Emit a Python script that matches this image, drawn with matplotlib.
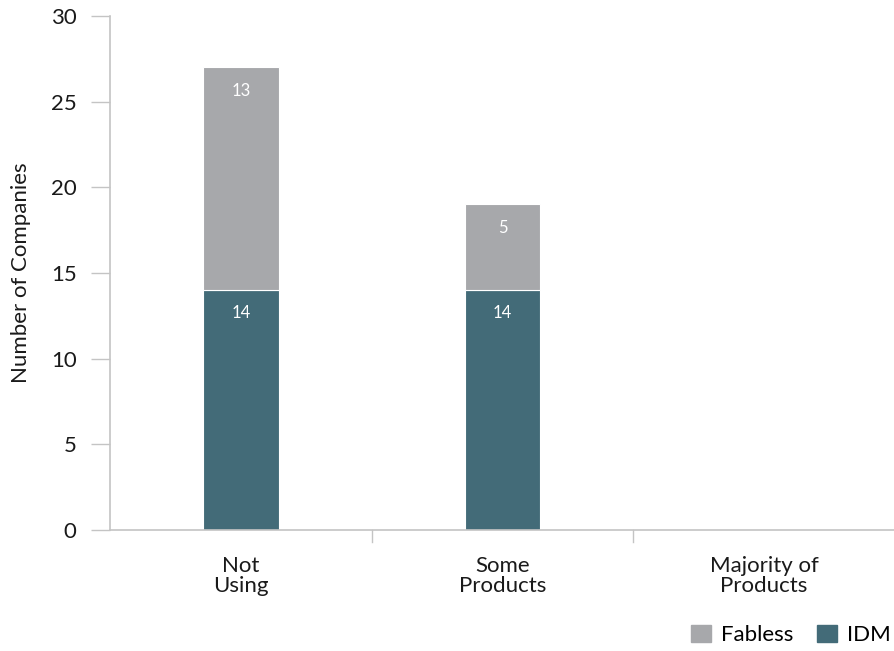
import matplotlib
matplotlib.use("Agg")
import matplotlib.pyplot as plt
import numpy as np
from matplotlib.patches import Patch

categories = ["Not\nUsing", "Some\nProducts", "Majority of\nProducts"]
idm = [14, 14, 0]
fabless = [13, 5, 0]
yticks = [0, 5, 10, 15, 20, 25, 30]

c_idm = "#436b78"
c_fab = "#a7a8ab"
c_axis = "#c4c4c4"
c_text = "#1a1a1a"

plt.rcParams['font.family'] = ['Lato', 'DejaVu Sans']

fig = plt.figure(figsize=(8.95, 6.51), dpi=100)
ax = fig.add_axes([110/895, 1-530/651, 1-110/895, (530-16)/651])

x = np.arange(len(categories))
w = 0.29
ax.bar(x, idm, w, color=c_idm, edgecolor="white", linewidth=0.8)
ax.bar(x, fabless, w, bottom=idm, color=c_fab, edgecolor="white", linewidth=0.8)

for i in range(len(categories)):
    if idm[i] > 0:
        ax.annotate(str(idm[i]), (x[i], idm[i]), xytext=(0, -11), textcoords="offset points",
                    ha="center", va="top", color="white", fontsize=12)
    if fabless[i] > 0:
        ax.annotate(str(fabless[i]), (x[i], idm[i] + fabless[i]), xytext=(0, -11), textcoords="offset points",
                    ha="center", va="top", color="white", fontsize=12)

ax.set_xlim(-0.5, len(categories) - 0.5)
ax.set_ylim(0, 30)
ax.set_yticks(yticks)
ax.set_yticklabels([str(t) for t in yticks], fontsize=16, color=c_text)
ax.tick_params(axis="y", length=14, width=1, color=c_axis, pad=10)

ax.set_xticks(x)
ax.set_xticklabels(categories, fontsize=16, color=c_text, linespacing=1.0)
ax.tick_params(axis="x", length=0, pad=19)
for b in [0.5, 1.5, 2.5]:
    ax.plot([b, b], [0, -0.024], transform=ax.get_xaxis_transform(), color=c_axis, lw=1, clip_on=False)

for s in ["top", "right"]:
    ax.spines[s].set_visible(False)
for s in ["left", "bottom"]:
    ax.spines[s].set_color(c_axis)
    ax.spines[s].set_linewidth(1.2)

ax.set_ylabel("Number of Companies", fontsize=16, color=c_text, labelpad=14)

handles = [Patch(color=c_fab, label="Fabless"), Patch(color=c_idm, label="IDM")]
fig.legend(handles=handles, loc="lower right", bbox_to_anchor=(1.018, -0.022), ncol=2, frameon=False,
           fontsize=16, handlelength=0.9, handleheight=0.85, handletextpad=0.45, columnspacing=1.1)

fig.savefig("out.png", dpi=100)
